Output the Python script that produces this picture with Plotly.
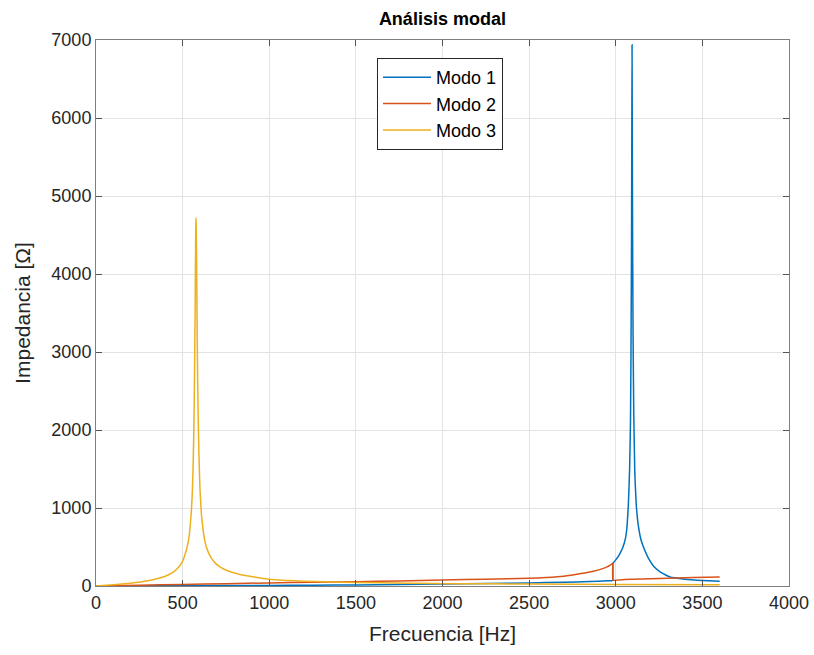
import plotly.graph_objects as go

# Modo 1 (blue)
f1 = [0, 250, 500, 750, 1000, 1250, 1500, 1750, 2000, 2250, 2500, 2700, 2850, 2950, 2982,
      2984, 3000, 3020, 3040, 3055, 3065, 3073, 3080, 3085, 3088, 3091, 3093, 3094, 3095,
      3097, 3100, 3104, 3110, 3118, 3130, 3145, 3160, 3190, 3220, 3260, 3313, 3400, 3500, 3600]
z1 = [0, 2, 4, 6, 8, 11, 14, 19, 25, 32, 40, 48, 58, 66, 70,
      290, 335, 400, 490, 600, 760, 1050, 1500, 2100, 3000, 4400, 6000, 6940, 6200,
      4600, 3200, 2200, 1450, 1050, 780, 600, 500, 350, 250, 175, 115, 88, 72, 62]

# Modo 2 (red)
f2 = [0, 250, 500, 750, 1000, 1250, 1500, 1750, 2000, 2250, 2500, 2600, 2700, 2800, 2870,
      2920, 2950, 2970, 2982, 2984, 3050, 3150, 3250, 3350, 3450, 3600]
z2 = [0, 10, 20, 30, 40, 48, 55, 65, 77, 87, 98, 108, 125, 160, 190,
      220, 245, 270, 290, 75, 82, 90, 97, 103, 108, 115]

# Modo 3 (yellow)
f3 = [0, 100, 200, 300, 350, 400, 450, 480, 500, 515, 530, 540, 550, 556, 560, 564, 567,
      570, 572, 574, 576, 577, 578, 580, 582, 584, 587, 590, 594, 600, 608, 618, 630, 645,
      665, 690, 720, 760, 810, 870, 940, 1000, 1100, 1200, 1350, 1500, 1800, 2100, 2500,
      3000, 3600]
z3 = [0, 17, 36, 66, 92, 125, 185, 250, 320, 410, 540, 680, 950, 1200, 1500, 1900, 2350,
      3000, 3500, 4100, 4600, 4720, 4650, 4300, 3800, 3200, 2600, 2150, 1700, 1250, 930, 720,
      560, 450, 360, 290, 240, 195, 160, 130, 105, 85, 72, 62, 52, 45, 36, 30, 25,
      20, 16]

names = ["Modo 1", "Modo 2", "Modo 3"]
colors = ["#0072BD", "#D95319", "#EDB120"]

x_ticks = [0, 500, 1000, 1500, 2000, 2500, 3000, 3500, 4000]
y_ticks = [0, 1000, 2000, 3000, 4000, 5000, 6000, 7000]

FONT = "Liberation Sans, Arial, Helvetica, sans-serif"

fig = go.Figure()
for f, z, n, c in zip([f1, f2, f3], [z1, z2, z3], names, colors):
    fig.add_trace(go.Scatter(x=f, y=z, mode="lines", name=n,
                             line=dict(color=c, width=1.5, shape="spline", smoothing=0.3)))

axis_common = dict(
    showline=True, mirror="ticks", linecolor="#7f7f7f", linewidth=1,
    ticks="inside", ticklen=6, tickcolor="#555555", tickwidth=1,
    showgrid=True, gridcolor="#e3e3e3", gridwidth=1, automargin=False,
    zeroline=False, tickfont=dict(family=FONT, size=18, color="#262626"),
)

fig.update_layout(
    width=814, height=655,
    margin=dict(l=96, r=25, t=40, b=69),
    paper_bgcolor="white", plot_bgcolor="white",
    title=dict(text="<b>Análisis modal</b>", x=0.5435, xanchor="center", y=0.972, yanchor="middle",
               font=dict(family=FONT, size=18, color="#000000")),
    xaxis=dict(range=[0, 4000], tickvals=x_ticks,
               title=dict(text="Frecuencia [Hz]", font=dict(family=FONT, size=21, color="#262626"),
                          standoff=14),
               **axis_common),
    yaxis=dict(range=[0, 7000], tickvals=y_ticks,
               title=dict(text="Impedancia [Ω]", font=dict(family=FONT, size=21, color="#262626"),
                          standoff=15),
               **axis_common),
    legend=dict(x=0.4055, y=0.967, xanchor="left", yanchor="top",
                bordercolor="#262626", borderwidth=1, bgcolor="white",
                font=dict(family=FONT, size=18, color="#000000"),
                itemwidth=48, tracegroupgap=0),
    showlegend=True,
)

fig.write_html("out.html")
